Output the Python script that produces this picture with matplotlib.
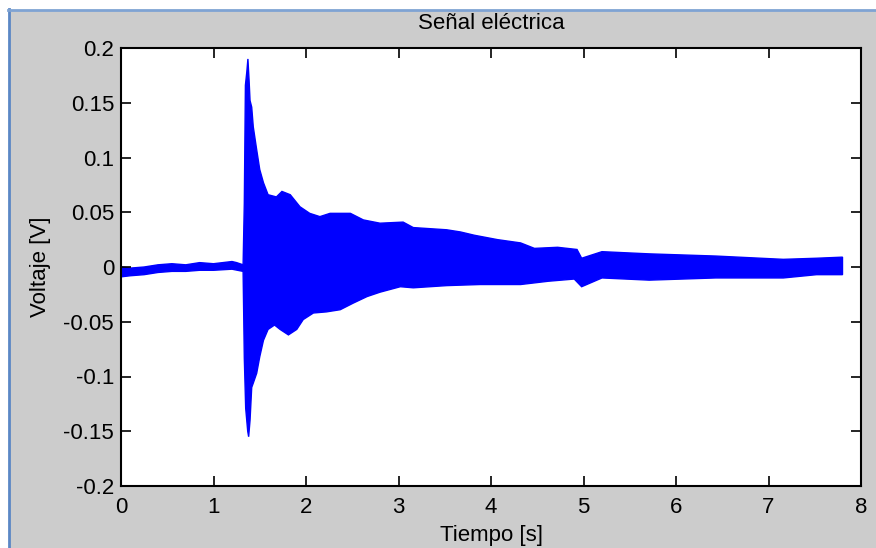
import matplotlib.pyplot as plt
import numpy as np
from matplotlib.patches import Rectangle
from matplotlib.lines import Line2D

# Envelope of the recorded voltage (upper and lower bounds of the dense waveform)
t_upper = [0.00, 0.10, 0.25, 0.40, 0.55, 0.70, 0.85, 1.00, 1.10, 1.20, 1.25, 1.32,
           1.333, 1.345, 1.36, 1.372, 1.385, 1.395, 1.413, 1.43, 1.467, 1.50, 1.54,
           1.59, 1.68, 1.74, 1.83, 1.935, 2.04, 2.15, 2.26, 2.48, 2.62, 2.80, 3.05,
           3.16, 3.52, 3.67, 3.82, 4.07, 4.32, 4.47, 4.72, 4.93, 4.98, 5.20, 5.71,
           6.43, 7.16, 7.52, 7.80]
v_upper = [0.000, -0.001, 0.000, 0.002, 0.003, 0.002, 0.004, 0.003, 0.004, 0.005, 0.004, 0.002,
           0.058, 0.166, 0.178, 0.190, 0.170, 0.152, 0.146, 0.128, 0.107, 0.089, 0.077,
           0.066, 0.064, 0.069, 0.066, 0.055, 0.049, 0.046, 0.049, 0.049, 0.043, 0.040, 0.041,
           0.036, 0.034, 0.032, 0.029, 0.025, 0.022, 0.017, 0.018, 0.016, 0.008, 0.014, 0.012,
           0.010, 0.007, 0.008, 0.009]

t_lower = [0.00, 0.10, 0.25, 0.40, 0.55, 0.70, 0.85, 1.00, 1.20, 1.32,
           1.333, 1.348, 1.37, 1.38, 1.395, 1.413, 1.43, 1.467, 1.50, 1.54,
           1.59, 1.66, 1.72, 1.81, 1.90, 1.97, 2.08, 2.22, 2.37, 2.51, 2.66,
           2.80, 3.02, 3.16, 3.52, 3.88, 4.32, 4.62, 4.90, 4.98, 5.20, 5.71,
           6.43, 7.16, 7.52, 7.80]
v_lower = [-0.009, -0.008, -0.007, -0.005, -0.004, -0.004, -0.003, -0.003, -0.002, -0.004,
           -0.083, -0.129, -0.150, -0.155, -0.140, -0.110, -0.106, -0.097, -0.082, -0.067,
           -0.057, -0.053, -0.057, -0.062, -0.057, -0.048, -0.042, -0.041, -0.039, -0.033, -0.027,
           -0.023, -0.018, -0.019, -0.017, -0.016, -0.016, -0.013, -0.011, -0.018, -0.010, -0.012,
           -0.010, -0.010, -0.007, -0.007]

x_ticks = [0, 1, 2, 3, 4, 5, 6, 7, 8]
y_ticks = [-0.2, -0.15, -0.1, -0.05, 0, 0.05, 0.1, 0.15, 0.2]
y_tick_labels = ['-0.2', '-0.15', '-0.1', '-0.05', '0', '0.05', '0.1', '0.15', '0.2']

plt.rcParams['font.family'] = ['Liberation Sans', 'DejaVu Sans']

fig = plt.figure(figsize=(8.76, 5.48), dpi=100)
fig.patch.set_facecolor('white')

# window-style gray background with a blue frame on the left and top
W, H = 876.0, 548.0
fig.patches.append(Rectangle((9 / W, 0), 1, 1 - 10 / H, transform=fig.transFigure,
                             facecolor='#cccccc', edgecolor='none', zorder=-2))
fig.lines.append(Line2D([9 / W, 9 / W], [0, 1 - 9 / H], transform=fig.transFigure,
                        color='#5b87c5', linewidth=2))
fig.lines.append(Line2D([8 / W, 1], [1 - 10 / H, 1 - 10 / H], transform=fig.transFigure,
                        color='#7fa3d3', linewidth=2))

ax = fig.add_axes([121 / W, 1 - 486 / H, 740 / W, 438 / H])
ax.set_facecolor('white')

xs = np.concatenate([t_upper, t_lower[::-1]])
ys = np.concatenate([v_upper, v_lower[::-1]])
ax.fill(xs, ys, facecolor='#0000ff', edgecolor='#0000ff', linewidth=1.0)

ax.set_xlim(0, 8)
ax.set_ylim(-0.2, 0.2)
ax.set_xticks(x_ticks)
ax.set_xticklabels([str(v) for v in x_ticks])
ax.set_yticks(y_ticks)
ax.set_yticklabels(y_tick_labels)
ax.tick_params(direction='in', length=7, width=1.2, top=True, right=True,
               labelsize=16, colors='black')
ax.tick_params(axis='x', pad=8)
ax.tick_params(axis='y', pad=5)
for s in ax.spines.values():
    s.set_linewidth(1.5)
    s.set_color('black')

ax.set_title('Señal eléctrica', fontsize=16, pad=14)
ax.set_xlabel('Tiempo [s]', fontsize=16, labelpad=5)
ax.set_ylabel('Voltaje [V]', fontsize=16, labelpad=9)

fig.savefig('out.png', dpi=100, facecolor=fig.get_facecolor())
